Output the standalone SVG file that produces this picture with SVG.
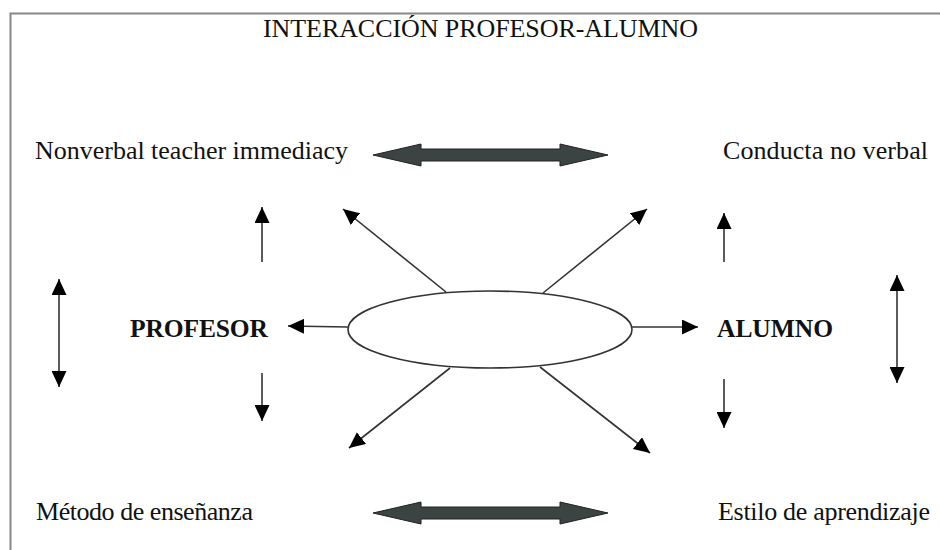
<svg xmlns="http://www.w3.org/2000/svg" width="940" height="550" viewBox="0 0 940 550">
<style>
.t{font-family:"Liberation Serif","Times New Roman",serif;font-size:26px;fill:#111}
.b{font-family:"Liberation Serif","Times New Roman",serif;font-size:25.5px;font-weight:bold;fill:#111}
.ln{stroke:#333;stroke-width:1.6;fill:none}
.blk{fill:#3b4442;stroke:#222;stroke-width:1}
</style>
<defs>
<marker id="ah" markerUnits="userSpaceOnUse" markerWidth="16" markerHeight="15" refX="16" refY="7.5" orient="auto-start-reverse" viewBox="0 0 16 15">
<path d="M0,0 L16,7.5 L0,15 z" fill="#000"/>
</marker>
</defs>
<rect x="10.5" y="13.5" width="940" height="550" fill="#fff" stroke="#888" stroke-width="2"/>
<text class="t" x="480.5" y="37" text-anchor="middle" textLength="435">INTERACCIÓN PROFESOR-ALUMNO</text>
<g id="nonverbal"><text class="t" x="35" y="159" textLength="313">Nonverbal teacher immediacy</text></g>
<g id="conducta"><text class="t" x="723" y="159" textLength="205">Conducta no verbal</text></g>
<g id="metodo"><text class="t" x="36" y="520" textLength="217">Método de enseñanza</text></g>
<g id="estilo"><text class="t" x="718" y="520" textLength="212">Estilo de aprendizaje</text></g>
<g id="profesor"><text class="b" x="130" y="337" textLength="138">PROFESOR</text></g>
<g id="alumno"><text class="b" x="717" y="337" textLength="116">ALUMNO</text></g>
<g id="centro"><ellipse cx="490" cy="329.5" rx="142" ry="38.5" fill="#fff" stroke="#333" stroke-width="1.6"/></g>
<g id="connectors">
<polygon class="blk" points="373,155 421,144 421,149 560,149 560,144 608,155 560,166 560,161 421,161 421,166"/>
<polygon class="blk" points="373,513 421,502 421,507 560,507 560,502 608,513 560,524 560,519 421,519 421,524"/>
<line class="ln" x1="59" y1="279" x2="59" y2="387" marker-start="url(#ah)" marker-end="url(#ah)"/>
<line class="ln" x1="897" y1="275" x2="897" y2="383" marker-start="url(#ah)" marker-end="url(#ah)"/>
<line class="ln" x1="262" y1="262" x2="262" y2="207" marker-end="url(#ah)"/>
<line class="ln" x1="724" y1="262" x2="724" y2="213" marker-end="url(#ah)"/>
<line class="ln" x1="262" y1="373" x2="262" y2="421" marker-end="url(#ah)"/>
<line class="ln" x1="724" y1="379" x2="724" y2="428" marker-end="url(#ah)"/>
<line class="ln" x1="348" y1="327" x2="288" y2="326" marker-end="url(#ah)"/>
<line class="ln" x1="632" y1="327" x2="698" y2="327" marker-end="url(#ah)"/>
<line class="ln" x1="446" y1="292" x2="343" y2="209" marker-end="url(#ah)"/>
<line class="ln" x1="543" y1="293" x2="647" y2="209" marker-end="url(#ah)"/>
<line class="ln" x1="450" y1="368" x2="349" y2="448" marker-end="url(#ah)"/>
<line class="ln" x1="540" y1="367" x2="650" y2="453" marker-end="url(#ah)"/>
</g>
</svg>
